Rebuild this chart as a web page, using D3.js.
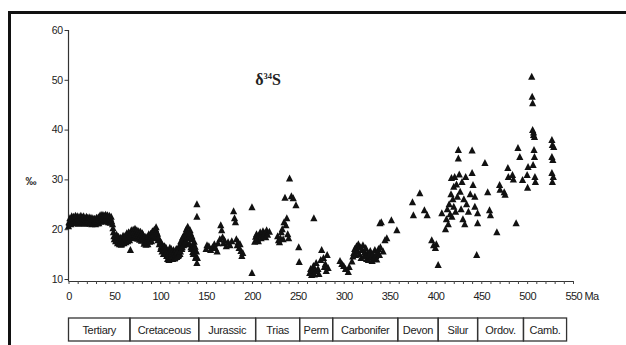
<!DOCTYPE html>
<html>
<head>
<meta charset="utf-8">
<script src="https://cdn.jsdelivr.net/npm/d3@7/dist/d3.min.js"></script>
<style>
  html, body { margin: 0; padding: 0; background: #fff; }
  svg { display: block; }
  text { font-family: "Liberation Sans", Arial, sans-serif; fill: #222; }
</style>
</head>
<body>
<svg id="chart" width="626" height="345"></svg>
<script>
// ---- data: [age (Ma), δ34S (‰)] ----
const tertiaryPts = [
  [0,20.6],[0.5,21.4],[1,21.2],[1.5,22.2],[2,21.8],[2.5,21.0],[3,21.4],[3.5,22.6],[4,22.0],[4.5,21.3],[5,21.6],[5.5,22.5],
  [6,22.1],[6.5,21.2],[7,21.8],[7.5,22.7],[8,22.3],[8.5,21.4],[9,21.9],[9.5,22.6],[10,22.2],[10.5,21.1],[11,21.7],[11.5,22.5],
  [12,22.0],[12.5,21.3],[13,21.6],[13.5,22.7],[14,22.1],[14.5,21.2],[15,21.8],[15.5,22.4],[16,21.4],[16.5,22.6],[17,21.9],
  [17.5,21.1],[18,22.2],[18.5,21.5],[19,21.7],[19.5,22.5],[20,21.5],[20.5,22.3],[21,22.0],[21.5,21.2],[22,21.6],[22.5,22.4],
  [23,21.9],[23.5,21.1],[24,21.4],[24.5,22.3],[25,21.8],[25.5,21.0],[26,21.5],[26.5,22.2],[27,21.9],[27.5,21.2],[28,21.3],
  [28.5,22.1],[29,21.7],[29.5,21.0],[30,21.5],[30.5,22.3],[31,21.9],[31.5,21.2],[32,21.6],[32.5,22.4],[33,21.2],[33.5,22.0],
  [34,21.7],[34.5,22.8],[35,22.4],[35.5,21.5],[36,21.9],[36.5,22.9],[37,22.6],[37.5,21.6],[38,21.8],[38.5,22.8],[39,22.6],
  [39.5,21.7],[40,22.0],[40.5,22.9],[41,22.5],[41.5,21.6],[42,22.2],[42.5,22.8],[43,21.8],[43.5,21.4],[44,22.3],[44.5,22.7],
  [45,21.9],[45.5,21.3],[46,22.1],[46.5,22.5],[47,21.6],
  [48,21.0],[48.5,20.2],[49,19.4],[49.5,18.6],[50,18.0]
];
const cretaceousPts = [
  [51,18.6],[51.5,17.6],[52,17.8],[52.5,18.9],[53,18.3],[53.5,17.2],[54,17.5],[54.5,18.5],[55,17.9],[55.5,17.0],[56,17.3],
  [56.5,18.3],[57,17.7],[57.5,16.9],[58,17.1],[58.5,18.2],[59,17.6],[59.5,18.7],[60,18.0],[60.5,17.2],[61,17.5],[61.5,18.6],
  [62,18.2],[62.5,17.4],[63,18.6],[63.5,19.2],[64,18.0],[64.5,17.6],[65,18.8],[65.5,19.4],[66,18.4],[66.5,17.8],[67,19.0],
  [67.5,15.8],[68,18.6],[68.5,19.8],[69,19.3],[69.5,18.2],[70,18.9],[70.5,19.9],[71,19.5],[71.5,18.4],[72,19.0],[72.5,20.1],
  [73,19.4],[73.5,18.3],[74,18.8],[74.5,19.8],[75,19.2],[75.5,18.1],[76,18.7],[76.5,19.6],[77,19.1],[77.5,17.9],[78,18.5],
  [78.5,19.5],[79,18.9],[79.5,17.7],[80,18.3],[80.5,19.2],[81,17.8],[81.5,18.8],[82,18.2],[82.5,17.1],[83,17.5],[83.5,18.5],
  [84,17.9],[84.5,16.9],[85,17.3],[85.5,18.4],[86,17.8],[86.5,17.0],[87,18.2],[87.5,19.0],[88,18.6],[88.5,17.5],[89,18.1],
  [89.5,19.1],[90,18.5],[90.5,17.6],[91,18.9],[91.5,19.6],[92,19.3],[92.5,18.2],[93,19.0],[93.5,19.9],[94,19.6],[94.5,18.6],
  [95,20.0],[95.5,20.4],[96,19.5],[96.5,18.6],[97,19.1],[97.5,17.8],[98,18.4],[99,17.0],
  [100,17.5],[100.5,16.0],[101,16.5],[101.5,17.2],[102,15.5],[102.5,16.8],[103,16.2],[103.5,15.0],[104,15.6],[104.5,16.6],
  [105,16.5],[105.5,15.1],[106,15.2],[106.5,16.2],[107,14.6],[107.5,15.6],[108,14.0],[108.5,15.0],[109,14.8],[109.5,13.8],
  [110,15.5],[110.5,16.3],[111,15.0],[111.5,14.2],[112,16.0],[112.5,15.1],[113,15.4],[113.5,14.0],[114,14.5],[114.5,15.8],
  [115,15.3],[115.5,14.1],[116,14.2],[116.5,15.4],[117,15.0],[117.5,16.0],[118,14.4],[118.5,15.3],[119,15.6],[119.5,14.6],
  [120,14.8],[120.5,16.6],[121,16.2],[121.5,15.0],[122,15.5],[122.5,17.6],[123,17.0],[123.5,16.0],[124,16.4],[124.5,18.4],
  [125,18.0],[125.5,16.8],[126,17.2],[126.5,19.0],[127,18.8],[127.5,17.4],[128,17.6],[128.5,20.0],[129,19.5],[129.5,18.2],
  [130,20.5],[130.5,19.0],[131,18.5],[131.5,17.0],[132,17.0],[132.5,19.8],[133,19.2],[133.5,16.4],[134,16.0],[134.5,18.6],
  [135,18.0],[135.5,15.4],[136,15.0],[136.5,17.0],[137,17.5],[137.5,16.0],[138,16.5],[138.5,14.2],[139,14.5],[139.5,15.5],
  [140,13.2],[140,25.0],[140,22.5],[140.5,14.2]
];
const jurassicPts = [
  [150,16.0],[151,16.8],[153,16.6],[155,15.8],[157,16.4],[159,17.0],[160,16.2],[162,15.5],[163,17.2],[165,18.0],
  [166,20.8],[167,19.8],[168,18.4],[169,17.2],[170,17.8],[172,16.6],[174,17.4],[176,16.8],[178,17.6],
  [180,23.6],[181,22.2],[182,21.4],[183,18.0],[184,16.8],[185,17.4],[186,16.2],[187,17.0],[188,15.6],[189,14.6],[190,15.2],
  [200,24.4],[200,11.2]
];
const triasPts = [
  [203,17.5],[204,18.5],[205,19.0],[206,18.0],[207,17.6],[208,18.8],[209,19.4],[210,18.2],[211,19.0],[212,19.6],
  [213,18.6],[214,19.2],[215,18.4],[216,19.8],[217,18.9],[219,19.5],
  [228,18.6],[229,17.8],[230,17.4],[231,18.2],[232,19.4],[233,20.0],[234,18.0],[235,21.4],[236,26.3],[237,20.8],
  [238,22.2],[239,19.0],[240,18.2],[241,30.2],[243,26.6],[245,26.2],[248,24.8],[251,16.4],[251.5,13.4]
];
const permPts = [
  [263,11.2],[264,12.0],[265,10.8],[266,11.8],[267,12.6],[267.5,22.2],[268,10.9],[269,11.6],[270,13.2],
  [272,12.0],[273,11.0],[275,13.8],[276,15.8],[278,14.2],[279,12.4],[280,13.0],[281,11.6],[282,14.8],[283,12.2],
  [296,13.6],[298,13.0],[300,12.6],[302,12.0],[305,11.4],[306,12.4]
];
const carboniferPts = [
  [309,13.5],[310,14.5],[311,15.2],[312,16.0],[313,14.8],[314,16.6],[315,15.6],[316,17.0],[317,15.0],[318,16.4],
  [319,14.2],[320,15.8],[321,16.8],[322,14.6],[323,15.4],[324,16.2],[325,14.0],[326,15.2],[327,13.8],[328,14.8],
  [329,15.6],[330,14.4],[331,13.6],[332,15.0],[333,14.2],[334,15.8],[335,14.6],[336,13.9],[337,15.2],[338,16.0],
  [339,14.8],[340,16.4],[339.5,21.2],[341,21.4],[343,15.5],[345,17.8],[347,18.2],[352,21.8],[358,19.8]
];
const devonPts = [
  [375,25.4],[376,22.8],[383,27.2],[388,23.8],[391,22.8],[396,17.8],[398,16.8],[400,16.2],[401,17.0],[403,12.8]
];
const silurPts = [
  [407,23.2],[411,20.0],[412,22.0],[413,24.0],[414,21.0],[415,25.0],[416,23.0],[417,27.0],[417.5,30.3],[418,22.5],
  [419,26.0],[420,28.5],[420,24.5],[421,30.5],[422,23.5],[423,29.0],[424,26.5],[425,35.9],[425,34.2],[426,31.0],
  [427,27.5],[428,24.0],[429,29.5],[430,22.0],[431,26.0],[432,21.0],[433,30.5],[434,25.0],[436,23.5],[438,27.0],
  [440,35.8],[440,31.3],[441,28.9],[443,26.5],[443,24.5],[445,14.8],[446,23.2],[446,21.2]
];
const ordovPts = [
  [454,33.3],[457,27.4],[459,23.8],[460,22.8],[467,19.4],[470,28.9],[470.5,27.9],[475,27.4],[476,26.9],
  [479,32.3],[479.5,30.5],[484,30.9],[485,30.0],[488,21.2],[490,36.3],[492,34.5],[495,29.9],
  [500,30.9],[500.5,28.3],[501,32.5]
];
const cambPts = [
  [505,50.6],[505.5,46.6],[506,45.3],[506,39.9],[507,38.9],[507,39.4],[507.5,35.9],[508,34.5],[508,38.5],
  [506.5,32.9],[508.5,30.5],[509,29.5],
  [527,37.9],[527.5,36.9],[527,34.5],[528,33.9],[527,31.3],[527.5,29.5],[529,36.5],[528.5,30.5]
];
const periodNames = ["Tertiary","Cretaceous","Jurassic","Trias","Perm","Carbonifer","Devon","Silur","Ordov.","Camb."];
const periodEdges = [0, 67, 142, 204, 252, 288, 359, 403, 446, 496, 543];
const xTicks = d3.range(0, 551, 10);
const yTicks = [10, 20, 30, 40, 50, 60];

const allPts = [].concat(tertiaryPts, cretaceousPts, jurassicPts, triasPts, permPts,
                         carboniferPts, devonPts, silurPts, ordovPts, cambPts);

// ---- drawing ----
const svg = d3.select("#chart");
const x = d3.scaleLinear().domain([0, 550]).range([68.5, 573]);
const y = d3.scaleLinear().domain([10, 60]).range([279, 30]);
const axisY = 281;

// frame
svg.append("rect").attr("x", 9.5).attr("y", 12.5).attr("width", 700).attr("height", 400)
  .attr("fill", "none").attr("stroke", "#111").attr("stroke-width", 3);

// y axis
const gy = svg.append("g").attr("transform", "translate(68.5,0)")
  .call(d3.axisLeft(y).tickValues(yTicks).tickSize(4).tickSizeOuter(0).tickPadding(2));
gy.select(".domain").remove();
gy.append("line").attr("x1", 0).attr("x2", 0).attr("y1", y(60)).attr("y2", axisY + 0.5)
  .attr("stroke", "#333").attr("stroke-width", 1.2);
gy.selectAll(".tick line").attr("stroke", "#333");
gy.selectAll(".tick text").style("font-size", "10.5px").style("letter-spacing", "-0.5px").attr("fill", "#222");

// x axis
const gx = svg.append("g").attr("transform", `translate(0,${axisY})`)
  .call(d3.axisBottom(x).tickValues(xTicks).tickSize(3).tickSizeOuter(0).tickPadding(8)
    .tickFormat(d => d % 50 === 0 ? (d === 550 ? "550 Ma" : d) : ""));
gx.select(".domain").attr("stroke", "#333").attr("stroke-width", 1.2);
gx.selectAll(".tick line").attr("stroke", "#444");
gx.selectAll(".tick text").style("font-size", "11px").style("letter-spacing", "-0.6px").attr("fill", "#222");
gx.selectAll(".tick text").filter(d => d === 550).attr("text-anchor", "start").attr("dx", "-8px");

// y label
svg.append("text").attr("x", 31).attr("y", 185).attr("text-anchor", "middle")
  .style("font-size", "11px").style("font-weight", "bold").attr("fill", "#222").text("‰");

// title
const title = svg.append("text").attr("x", 268).attr("y", 85).attr("text-anchor", "middle")
  .style("font-family", "'Liberation Serif', 'DejaVu Serif', serif").style("font-size", "16px")
  .style("font-weight", "bold").attr("fill", "#333");
title.append("tspan").text("δ");
title.append("tspan").attr("dy", "-6").style("font-size", "8.5px").text("34");
title.append("tspan").attr("dy", "6").text("S");

// points (filled triangles)
svg.append("g").selectAll("path").data(allPts).join("path")
  .attr("transform", d => `translate(${x(d[0])},${y(d[1])})`)
  .attr("d", "M0,-4L3.6,3L-3.6,3Z")
  .attr("fill", "#111");

// period table
const tableTop = 318, tableBottom = 341;
const tg = svg.append("g");
periodNames.forEach((name, i) => {
  const x0 = x(periodEdges[i]), x1 = x(periodEdges[i + 1]);
  tg.append("rect").attr("x", x0).attr("y", tableTop).attr("width", x1 - x0).attr("height", tableBottom - tableTop)
    .attr("fill", "none").attr("stroke", "#333").attr("stroke-width", 1.3);
  tg.append("text").attr("x", (x0 + x1) / 2).attr("y", (tableTop + tableBottom) / 2 + 4)
    .attr("text-anchor", "middle").style("font-size", "11px").style("letter-spacing", "-0.3px")
    .attr("fill", "#222").text(name);
});
</script>
</body>
</html>
